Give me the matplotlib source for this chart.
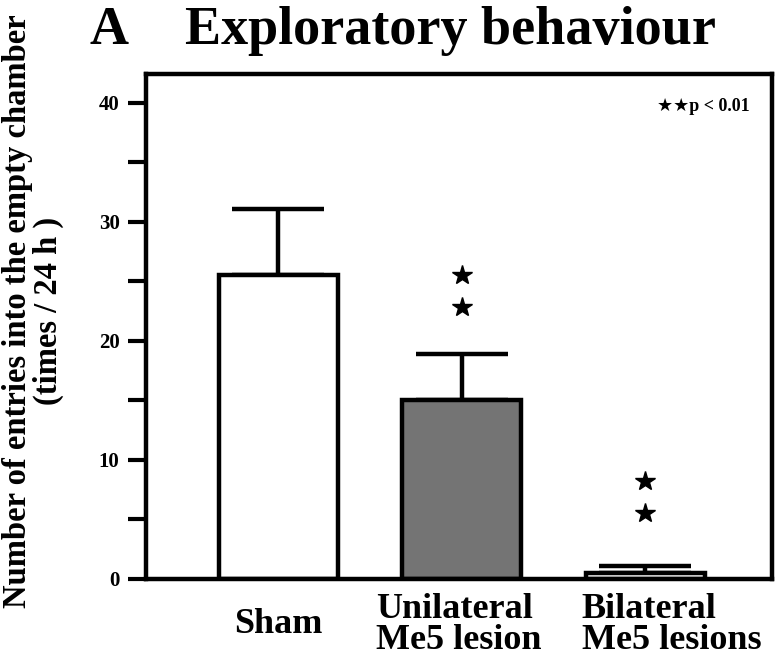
import matplotlib
matplotlib.use("Agg")
import matplotlib.pyplot as plt
from matplotlib.ticker import MultipleLocator

plt.rcParams['font.family'] = ['Liberation Serif', 'DejaVu Sans']
plt.rcParams['font.weight'] = 'bold'

categories = ["Sham", "Unilateral\nMe5 lesion", "Bilateral\nMe5 lesions"]
means = [25.5, 15.0, 0.5]
sem = [5.6, 3.9, 0.6]
bar_colors = ["white", "#747474", "white"]
star_y = [[], [25.5, 22.8], [8.2, 5.5]]
yticks = [0, 10, 20, 30, 40]
label_dx = [0, -2, 19]  # horizontal nudges of category labels (points)

fig = plt.figure(figsize=(7.75, 6.62), dpi=100)
ax = fig.add_axes([146/775, 1 - 579/662, (772-146)/775, (579-74)/662])

x = list(range(len(categories)))
ax.bar(x, means, width=0.65, color=bar_colors, edgecolor="black", linewidth=3.2, zorder=2)
ax.errorbar(x, means, yerr=[[0]*len(sem), sem], fmt="none", ecolor="black",
            elinewidth=3.2, capsize=33, capthick=3.2, zorder=1)
for xi, ys in zip(x, star_y):
    if ys:
        ax.plot([xi]*len(ys), ys, linestyle="none", marker="*", markersize=15,
                color="black", zorder=3)

ax.set_xlim(-0.72, 2.69)
ax.set_ylim(0, 42.4)
ax.set_yticks(yticks)
ax.yaxis.set_minor_locator(MultipleLocator(5))
ax.tick_params(axis="y", which="both", direction="out", length=13, width=3, labelsize=15, pad=6)
ax.set_xticks([])
for lab in ax.get_yticklabels():
    lab.set_fontweight("bold")
for sp in ax.spines.values():
    sp.set_linewidth(3.2)

for xi, cat, dx in zip(x, categories, label_dx):
    ax.annotate(cat, xy=(xi, 0), xycoords=("data", "axes fraction"),
                xytext=(dx, -33), textcoords="offset points", ha="center", va="center",
                multialignment="left", fontsize=26, fontweight="bold", linespacing=0.92,
                annotation_clip=False)

ax.text(0.965, 0.935, "★★p < 0.01", transform=ax.transAxes, ha="right", va="center",
        fontsize=13, fontweight="bold")

fig.text(33/775, 1 - 311/662, "Number of entries into the empty chamber\n(times / 24 h )",
         rotation=90, ha="center", va="center", fontsize=23.5, fontweight="bold",
         multialignment="center", linespacing=0.95)
fig.text(90/775, 1 - 31/662, "A", ha="left", va="center", fontsize=39, fontweight="bold")
fig.text(450/775, 1 - 31/662, "Exploratory behaviour", ha="center", va="center",
         fontsize=39, fontweight="bold")

fig.savefig("out.png", dpi=100)
